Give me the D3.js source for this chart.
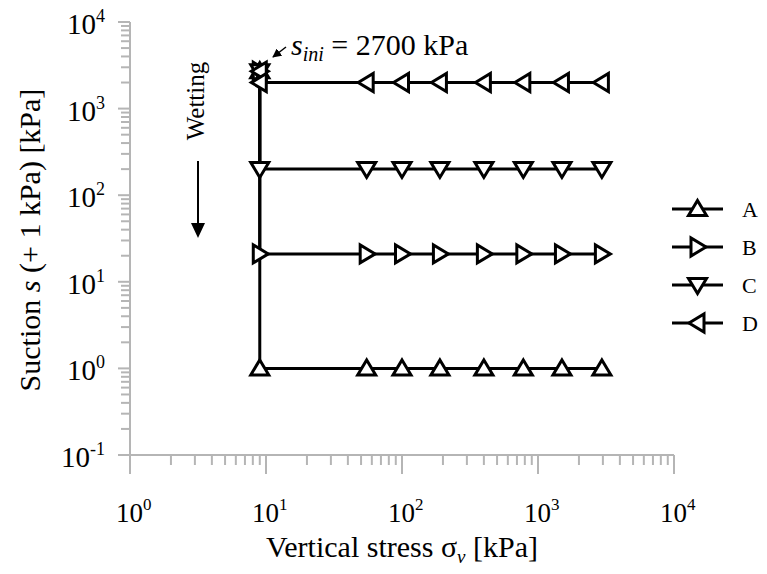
<!DOCTYPE html>
<html>
<head>
<meta charset="utf-8">
<script src="https://cdn.jsdelivr.net/npm/d3@7"></script>
<style>
  body { margin: 0; background: #fff; }
  svg { display: block; font-family: "Liberation Serif", "Times New Roman", serif; }
</style>
</head>
<body>
<svg id="chart" width="767" height="574"></svg>
<script>
// data
var seriesNames = ["A", "B", "C", "D"];
var suction = [1, 21, 201, 2001];          // s + 1 kPa at each wetting stage
var sIni = 2700;                           // initial suction
var stressStart = 9;                       // vertical stress during wetting
var stressSteps = [55, 100, 190, 400, 780, 1500, 2950];
var markerAngle = [0, 90, 180, 270];       // up, right, down, left triangles

var xTickExp = [0, 1, 2, 3, 4];
var yTickExp = [-1, 0, 1, 2, 3, 4];

var svg = d3.select("#chart");

var x = d3.scaleLog().domain([1, 1e4]).range([130, 674]);
var y = d3.scaleLog().domain([0.1, 1e4]).range([455, 22]);

var axisColor = "#b5b5b5";

function isMajor(d) {
    var l = Math.log10(d);
    return Math.abs(l - Math.round(l)) < 1e-6;
}

// axes
var gx = svg.append("g").attr("class", "xaxis");
gx.append("line")
    .attr("x1", x(1)).attr("x2", x(1e4))
    .attr("y1", y(0.1)).attr("y2", y(0.1))
    .attr("stroke", axisColor).attr("stroke-width", 2);

gx.selectAll(".tick").data(x.ticks()).enter().append("line")
    .attr("x1", function(d) { return x(d); })
    .attr("x2", function(d) { return x(d); })
    .attr("y1", y(0.1))
    .attr("y2", function(d) { return isMajor(d) ? y(0.1) + 19 : y(0.1) + 10; })
    .attr("stroke", axisColor).attr("stroke-width", 2);

var gy = svg.append("g").attr("class", "yaxis");
gy.append("line")
    .attr("x1", x(1)).attr("x2", x(1))
    .attr("y1", y(0.1)).attr("y2", y(1e4))
    .attr("stroke", axisColor).attr("stroke-width", 2);

gy.selectAll(".tick").data(y.ticks()).enter().append("line")
    .attr("y1", function(d) { return y(d); })
    .attr("y2", function(d) { return y(d); })
    .attr("x1", x(1))
    .attr("x2", function(d) { return isMajor(d) ? x(1) - 12 : x(1) - 9; })
    .attr("stroke", axisColor).attr("stroke-width", 2);

// tick labels
var xl = svg.selectAll(".xlab").data(xTickExp).enter().append("text")
    .attr("class", "xlab")
    .attr("x", function(d) { return x(Math.pow(10, d)) - 14; })
    .attr("y", 522)
    .attr("font-size", 27);
xl.append("tspan").text("10");
xl.append("tspan").attr("dy", -12).attr("font-size", 17)
    .text(function(d) { return d; });

var yl = svg.selectAll(".ylab").data(yTickExp).enter().append("text")
    .attr("class", "ylab")
    .attr("x", 105)
    .attr("y", function(d) { return y(Math.pow(10, d)) + 12; })
    .attr("text-anchor", "end")
    .attr("font-size", 29);
yl.append("tspan").text("10");
yl.append("tspan").attr("dy", -12).attr("font-size", 18)
    .text(function(d) { return d; });

// axis titles
var xt = svg.append("text")
    .attr("x", 402).attr("y", 557)
    .attr("text-anchor", "middle")
    .attr("font-size", 30);
xt.append("tspan").text("Vertical stress \u03c3");
xt.append("tspan").attr("dy", 6).attr("font-size", 19).attr("font-style", "italic").text("v");
xt.append("tspan").attr("dy", -6).text(" [kPa]");

var yt = svg.append("text")
    .attr("transform", "translate(40,240) rotate(-90)")
    .attr("text-anchor", "middle")
    .attr("font-size", 30);
yt.append("tspan").text("Suction ");
yt.append("tspan").attr("font-style", "italic").text("s");
yt.append("tspan").text(" (+ 1 kPa) [kPa]");

// series lines
var line = d3.line()
    .x(function(d) { return x(d[0]); })
    .y(function(d) { return y(d[1]); });

function seriesPoints(i) {
    var pts = [[stressStart, sIni], [stressStart, suction[i]]];
    stressSteps.forEach(function(s) { pts.push([s, suction[i]]); });
    return pts;
}

var tri = "M0,-8.5L9,6.5L-9,6.5Z";

seriesNames.forEach(function(name, i) {
    var pts = seriesPoints(i);
    svg.append("path")
        .attr("d", line(pts))
        .attr("fill", "none")
        .attr("stroke", "#000")
        .attr("stroke-width", 3);

    svg.selectAll(".m" + name).data(pts).enter().append("path")
        .attr("class", "m" + name)
        .attr("d", tri)
        .attr("transform", function(d) {
            return "translate(" + x(d[0]) + "," + y(d[1]) + ") rotate(" + markerAngle[i] + ")";
        })
        .attr("fill", "#fff")
        .attr("stroke", "#000")
        .attr("stroke-width", 3);
});

// legend
var legend = svg.selectAll(".legend").data(seriesNames).enter().append("g")
    .attr("class", "legend")
    .attr("transform", function(d, i) { return "translate(672," + (209 + i * 38) + ")"; });
legend.append("line")
    .attr("x1", 0).attr("x2", 51)
    .attr("stroke", "#000").attr("stroke-width", 3);
legend.append("path")
    .attr("d", tri)
    .attr("transform", function(d, i) { return "translate(25.5,0) rotate(" + markerAngle[i] + ")"; })
    .attr("fill", "#fff").attr("stroke", "#000").attr("stroke-width", 3);
legend.append("text")
    .attr("x", 70).attr("y", 8)
    .attr("font-size", 22)
    .text(function(d) { return d; });

// annotation for initial suction
var ann = svg.append("text")
    .attr("x", 291).attr("y", 55)
    .attr("font-size", 30);
ann.append("tspan").attr("font-style", "italic").text("s");
ann.append("tspan").attr("dy", 6).attr("font-size", 20).attr("font-style", "italic").text("ini");
ann.append("tspan").attr("dy", -6).text(" = 2700 kPa");

svg.append("defs").append("marker")
    .attr("id", "ah")
    .attr("viewBox", "0 0 10 10")
    .attr("refX", 9).attr("refY", 5)
    .attr("markerWidth", 6).attr("markerHeight", 6)
    .attr("orient", "auto")
    .append("path").attr("d", "M0,0L10,5L0,10Z").attr("fill", "#000");

svg.append("line")
    .attr("x1", 286).attr("y1", 47)
    .attr("x2", 273).attr("y2", 57)
    .attr("stroke", "#000").attr("stroke-width", 1.5)
    .attr("marker-end", "url(#ah)");

// wetting direction
svg.append("text")
    .attr("transform", "translate(204,101) rotate(-90)")
    .attr("text-anchor", "middle")
    .attr("font-size", 25)
    .text("Wetting");

svg.append("line")
    .attr("x1", 198).attr("x2", 198)
    .attr("y1", 161).attr("y2", 225)
    .attr("stroke", "#000").attr("stroke-width", 2);
svg.append("path")
    .attr("d", "M191,223L205,223L198,238Z")
    .attr("fill", "#000");
</script>
</body>
</html>
